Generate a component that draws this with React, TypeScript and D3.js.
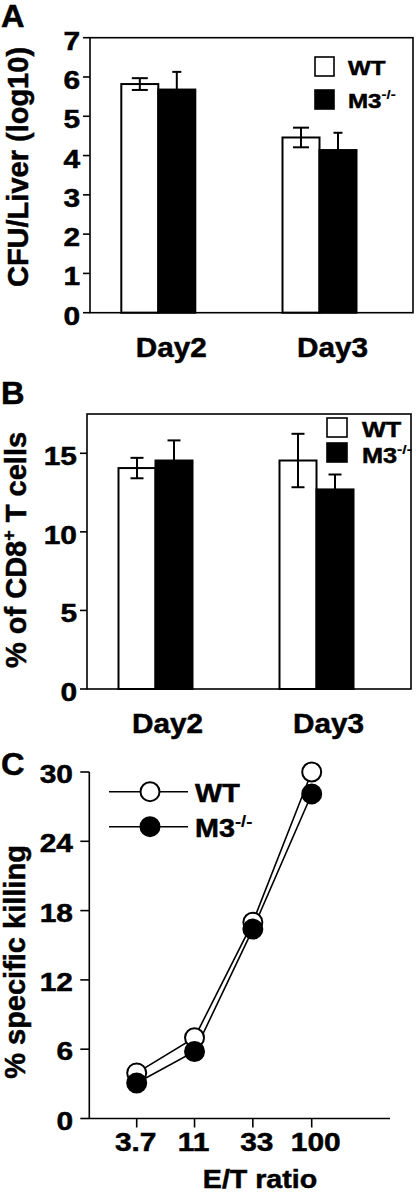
import React from "react";
import * as d3 from "d3";

const days = ["Day2", "Day3"];
const series = ["WT", "M3"];
// Panel A: CFU/Liver (log10)
const cfuWT = [5.82, 4.46];
const cfuWTErr = [0.15, 0.25];
const cfuM3 = [5.68, 4.14];
const cfuM3Err = [0.45, 0.44];
const cfuTicks = [0, 1, 2, 3, 4, 5, 6, 7];
// Panel B: % of CD8+ T cells
const cd8WT = [14.06, 14.54];
const cd8WTErr = [0.65, 1.7];
const cd8M3 = [14.54, 12.7];
const cd8M3Err = [1.28, 0.95];
const cd8Ticks = [0, 5, 10, 15];
// Panel C: % specific killing
const etRatio = [3.7, 11, 33, 100];
const etLabels = ["3.7", "11", "33", "100"];
const killWT = [3.95, 7.0, 17.0, 30.0];
const killM3 = [3.07, 5.8, 16.4, 28.1];
const killTicks = [0, 6, 12, 18, 24, 30];

const FONT = "'Liberation Sans', Arial, Helvetica, sans-serif";
const SX = 1.15;
const TS = 0.5; // text stroke for heavier weight

function HText({ x, y, size, anchor = "start", sx = SX, children }: any) {
  return (
    <text
      transform={`translate(${x},${y}) scale(${sx},1)`}
      textAnchor={anchor}
      fontSize={size}
      fontWeight="bold"
      fontFamily={FONT}
      fill="#000"
      stroke="#000"
      strokeWidth={TS}
    >
      {children}
    </text>
  );
}

function VText({ x, y, size, children }: any) {
  return (
    <text
      transform={`translate(${x},${y}) rotate(-90)`}
      textAnchor="middle"
      fontSize={size}
      fontWeight="bold"
      fontFamily={FONT}
      fill="#000"
      stroke="#000"
      strokeWidth={TS}
    >
      {children}
    </text>
  );
}

function BarPanel({ left, right, top, bottom, yMax, ticks, centers, wt, wtErr, m3, m3Err, capWT, capM3, labelOffset, labelY, legend }: any) {
  const y = d3.scaleLinear().domain([0, yMax]).range([bottom, top]);
  const x = d3.scalePoint().domain(days).range(centers);
  const s = d3.scaleBand().domain(series).range([-37, 37]);
  const bw = s.bandwidth();
  const vals: any = { WT: wt, M3: m3 };
  const errs: any = { WT: wtErr, M3: m3Err };
  const caps: any = { WT: capWT, M3: capM3 };
  return (
    <g>
      {days.map((d, i) =>
        series.map((k) => {
          const v = vals[k][i];
          const e = errs[k][i];
          const bx = (x(d) as number) + (s(k) as number);
          const cx = bx + bw / 2;
          const col = k === "WT" ? "#fff" : "#000";
          return (
            <g key={d + k}>
              <rect x={bx} y={y(v)} width={bw} height={y(0) - y(v)} fill={col} stroke="#000" strokeWidth={2} />
              <line x1={cx} x2={cx} y1={y(v + e)} y2={y(v - e)} stroke="#000" strokeWidth={2} />
              <line x1={cx - caps[k] / 2} x2={cx + caps[k] / 2} y1={y(v + e)} y2={y(v + e)} stroke="#000" strokeWidth={2} />
              {k === "WT" && (
                <line x1={cx - caps[k] / 2} x2={cx + caps[k] / 2} y1={y(v - e)} y2={y(v - e)} stroke="#000" strokeWidth={2} />
              )}
            </g>
          );
        })
      )}
      <rect x={left} y={top} width={right - left} height={bottom - top} fill="none" stroke="#000" strokeWidth={1.6} />
      {ticks.map((t: number) => (
        <g key={t}>
          <line x1={left - 7} x2={left} y1={y(t)} y2={y(t)} stroke="#000" strokeWidth={1.6} />
          <HText x={left - 10} y={y(t) + 12} size={26} anchor="end">{t}</HText>
        </g>
      ))}
      {days.map((d) => (
        <HText key={d} x={(x(d) as number) + labelOffset} y={labelY} size={27} anchor="middle" sx={1.1}>{d}</HText>
      ))}
      <rect x={legend.x} y={legend.y1} width={legend.sw} height={legend.sh} fill="#fff" stroke="#000" strokeWidth={1.6} />
      <rect x={legend.x} y={legend.y2} width={legend.sw} height={legend.sh} fill="#000" stroke="#000" strokeWidth={1.6} />
      <HText x={legend.tx} y={legend.b1} size={legend.fs}>WT</HText>
      <text transform={`translate(${legend.tx},${legend.b2}) scale(${SX},1)`} fontSize={legend.fs} fontWeight="bold" fontFamily={FONT} stroke="#000" strokeWidth={TS}>
        M3<tspan fontSize={legend.fs * 0.62} dy={-legend.fs * 0.42} strokeWidth={0.2}>-/-</tspan>
      </text>
    </g>
  );
}

function PanelC() {
  const left = 89.3, right = 390, bottom = 1118.5, top = 772;
  const y = d3.scaleLinear().domain([0, 30]).range([bottom, top]);
  const x = d3.scaleLog().domain([3.7, 100]).range([136.7, 311.7]);
  const line = d3.line<number>().x((_, i) => x(etRatio[i])).y((v) => y(v));
  return (
    <g>
      <line x1={left} x2={left} y1={top} y2={bottom} stroke="#000" strokeWidth={1.6} />
      <line x1={left} x2={right} y1={bottom} y2={bottom} stroke="#000" strokeWidth={1.6} />
      {killTicks.map((t) => (
        <g key={t}>
          <line x1={left - 9} x2={left} y1={y(t)} y2={y(t)} stroke="#000" strokeWidth={1.6} />
          <HText x={73} y={y(t) + 11} size={26} anchor="end">{t}</HText>
        </g>
      ))}
      {etRatio.map((r, i) => (
        <g key={r}>
          <line x1={x(r)} x2={x(r)} y1={bottom} y2={bottom + 9} stroke="#000" strokeWidth={1.6} />
          <HText x={x(r) + (i >= 2 ? 4 : -1)} y={1151} size={26} anchor="middle">{etLabels[i]}</HText>
        </g>
      ))}
      <HText x={260} y={1188} size={26} anchor="middle" sx={1.1}>E/T ratio</HText>
      <path d={line(killWT) as string} fill="none" stroke="#000" strokeWidth={1.6} />
      <path d={line(killM3) as string} fill="none" stroke="#000" strokeWidth={1.6} />
      {killWT.map((v, i) => (
        <circle key={"w" + i} cx={x(etRatio[i])} cy={y(v)} r={9.5} fill="#fff" stroke="#000" strokeWidth={2} />
      ))}
      {killM3.map((v, i) => (
        <circle key={"m" + i} cx={x(etRatio[i])} cy={y(v)} r={9.5} fill="#000" stroke="#000" strokeWidth={2} />
      ))}
      {/* legend */}
      <line x1={109} x2={188} y1={791.7} y2={791.7} stroke="#000" strokeWidth={1.6} />
      <circle cx={150} cy={791.7} r={9.5} fill="#fff" stroke="#000" strokeWidth={2} />
      <HText x={195} y={801.7} size={25}>WT</HText>
      <line x1={109} x2={188} y1={826.7} y2={826.7} stroke="#000" strokeWidth={1.6} />
      <circle cx={150} cy={826.7} r={9.5} fill="#000" stroke="#000" strokeWidth={2} />
      <text transform={`translate(195,836.7) scale(${SX},1)`} fontSize={25} fontWeight="bold" fontFamily={FONT} stroke="#000" strokeWidth={TS}>
        M3<tspan fontSize={16} dy={-10} strokeWidth={0.2}>-/-</tspan>
      </text>
      <VText x={25} y={962} size={29}>% specific killing</VText>
    </g>
  );
}

export default function App() {
  return (
    <svg
      width={416}
      height={1193}
      viewBox="0 0 416 1193"
      style={{ position: "absolute", left: 0, top: 0, background: "#fff" }}
    >
      <rect x={0} y={0} width={416} height={1193} fill="#fff" />
      <HText x={1} y={27} size={31} sx={1.05}>A</HText>
      <HText x={1} y={404} size={31} sx={1.05}>B</HText>
      <HText x={1} y={775} size={31} sx={1.05}>C</HText>

      <BarPanel
        left={90} right={413} top={37.7} bottom={312.7} yMax={7} ticks={cfuTicks}
        centers={[158.3, 319.5]} wt={cfuWT} wtErr={cfuWTErr} m3={cfuM3} m3Err={cfuM3Err}
        capWT={16} capM3={9} labelOffset={13} labelY={357}
        legend={{ x: 315, y1: 57, y2: 90, sw: 19, sh: 19, tx: 348, b1: 75, b2: 108, fs: 21 }}
      />
      <VText x={28} y={167} size={29}>CFU/Liver (log10)</VText>

      <BarPanel
        left={87} right={411} top={414} bottom={689} yMax={17.5} ticks={cd8Ticks}
        centers={[155.5, 316.5]} wt={cd8WT} wtErr={cd8WTErr} m3={cd8M3} m3Err={cd8M3Err}
        capWT={13} capM3={13} labelOffset={12} labelY={733}
        legend={{ x: 327, y1: 418, y2: 443, sw: 20, sh: 19, tx: 362, b1: 436.7, b2: 463, fs: 22 }}
      />
      <VText x={26} y={550} size={29}>
        % of CD8<tspan fontSize={18} dy={-11} strokeWidth={0.3}>+</tspan><tspan dy={11}> T cells</tspan>
      </VText>

      <PanelC />
    </svg>
  );
}
